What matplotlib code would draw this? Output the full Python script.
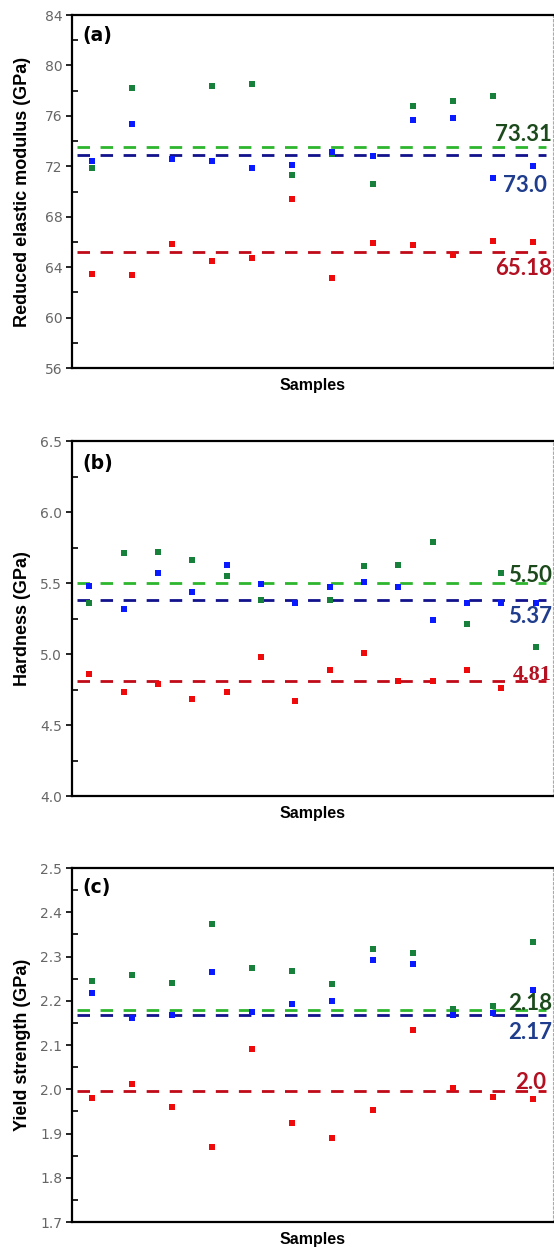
import numpy as np
import matplotlib
matplotlib.use('Agg')
import matplotlib.pyplot as plt
from matplotlib.ticker import MultipleLocator, AutoMinorLocator
import matplotlib.transforms as mtransforms

nan = np.nan

# sample positions
samples_12 = list(range(1, 13))
samples_14 = list(range(1, 15))

# (a) reduced elastic modulus, GPa
modulus_green = [71.85, 78.19, nan, 78.40, 78.53, 71.30, 72.96, 70.57, 76.82, 77.22, 77.59, nan]
modulus_blue = [72.43, 75.33, 72.57, 72.41, 71.88, 72.09, 73.14, 72.83, 75.67, 75.85, 71.09, 72.04]
modulus_red = [63.47, 63.40, 65.84, 64.47, 64.73, 69.38, 63.15, 65.94, 65.78, 64.94, 66.07, 66.00]
modulus_lines = [73.50, 72.93, 65.20]
modulus_labels = ['73.31', '73.0', '65.18']

# (b) hardness, GPa
hardness_green = [5.36, 5.71, 5.72, 5.66, 5.55, 5.38, nan, 5.38, 5.62, 5.63, 5.79, 5.21, 5.57, 5.05]
hardness_blue = [5.48, 5.32, 5.57, 5.44, 5.63, 5.49, 5.36, 5.47, 5.51, 5.47, 5.24, 5.36, 5.36, 5.36]
hardness_red = [4.86, 4.73, 4.79, 4.68, 4.73, 4.98, 4.67, 4.89, 5.01, 4.81, 4.81, 4.89, 4.76, nan]
hardness_lines = [5.50, 5.38, 4.81]
hardness_labels = ['5.50', '5.37', '4.81']

# (c) yield strength, GPa
yield_green = [2.245, 2.259, 2.240, 2.374, 2.275, 2.267, 2.239, 2.317, 2.307, 2.182, 2.189, 2.332]
yield_blue = [2.218, 2.162, 2.167, 2.266, 2.174, 2.192, 2.199, 2.292, 2.283, 2.167, 2.172, 2.225]
yield_red = [1.981, 2.012, 1.961, 1.869, 2.091, 1.924, 1.890, 1.954, 2.134, 2.002, 1.983, 1.979]
yield_lines = [2.18, 2.168, 1.997]
yield_labels = ['2.18', '2.17', '2.0']

marker_colors = ['#17803a', '#0a1aff', '#ee0a0a']
line_colors = ['#2eb52e', '#12128c', '#c00a18']
text_colors = ['#1c4a1c', '#1f3d8c', '#b31021']


def draw_panel(ax, x, series, lines, labels, label_y, label_x, ylim, major, ylabel, tag, tag_y):
    for lv, lc in zip(lines, line_colors):
        ax.axhline(lv, xmin=0.01, xmax=0.985, color=lc, lw=2.0, dashes=(4.5, 3.8), zorder=2)
    for s, mc in zip(series, marker_colors):
        ax.plot(x, s, 's', color=mc, ms=4.6, mew=0, zorder=3)

    trans = mtransforms.blended_transform_factory(ax.transAxes, ax.transData)
    for i, (lab, ly, lx) in enumerate(zip(labels, label_y, label_x)):
        fam = ['Liberation Serif'] if lab == '4.81' else ['Lato', 'DejaVu Sans']
        ax.text(lx, ly, lab, transform=trans, ha='right', va='center',
                fontsize=16, fontweight='bold', color=text_colors[i], family=fam, zorder=4)

    ax.set_xlim(0.5, len(x) + 0.5)
    ax.set_ylim(*ylim)
    ax.yaxis.set_major_locator(MultipleLocator(major))
    ax.yaxis.set_minor_locator(AutoMinorLocator(2))
    ax.set_xticks([])
    ax.tick_params(axis='y', which='major', direction='out', length=4, width=1.2,
                   labelsize=10, labelcolor='#666666', pad=3)
    ax.tick_params(axis='y', which='minor', direction='in', length=4, width=1.2)

    for side in ['left', 'bottom', 'top']:
        ax.spines[side].set_linewidth(1.6)
    ax.spines['right'].set_color('#aaaaaa')
    ax.spines['right'].set_linewidth(0.8)
    ax.spines['right'].set_linestyle((0, (2, 2)))

    ax.set_ylabel(ylabel, fontsize=13, fontweight='bold', family='Liberation Sans')
    ax.yaxis.set_label_coords(-0.085, 0.5)
    ax.set_xlabel('Samples', fontsize=11.5, fontweight='bold', family='Liberation Sans', labelpad=7)
    ax.text(0.021, tag_y, tag, transform=ax.transAxes, ha='left', va='center',
            fontsize=13.5, fontweight='bold', family='DejaVu Sans')


fig = plt.figure(figsize=(5.54, 12.53), dpi=100)
ax1 = fig.add_axes([0.130, 0.7063, 0.868, 0.2817])
ax2 = fig.add_axes([0.130, 0.3647, 0.868, 0.2833])
ax3 = fig.add_axes([0.130, 0.0247, 0.868, 0.2825])

draw_panel(ax1, samples_12, [modulus_green, modulus_blue, modulus_red], modulus_lines,
           modulus_labels, [74.54, 70.51, 63.89], [0.998, 0.988, 0.998],
           (56, 84), 4, 'Reduced elastic modulus (GPa)', '(a)', 0.943)
draw_panel(ax2, samples_14, [hardness_green, hardness_blue, hardness_red], hardness_lines,
           hardness_labels, [5.55, 5.262, 4.854], [0.998, 0.998, 0.998],
           (4.0, 6.5), 0.5, 'Hardness (GPa)', '(b)', 0.938)
draw_panel(ax3, samples_12, [yield_green, yield_blue, yield_red], yield_lines,
           yield_labels, [2.195, 2.128, 2.015], [0.998, 0.998, 0.985],
           (1.7, 2.5), 0.1, 'Yield strength (GPa)', '(c)', 0.944)

ax2.yaxis.set_major_formatter(plt.FormatStrFormatter('%.1f'))
ax3.yaxis.set_major_formatter(plt.FormatStrFormatter('%.1f'))

fig.savefig('out.png', dpi=100)
